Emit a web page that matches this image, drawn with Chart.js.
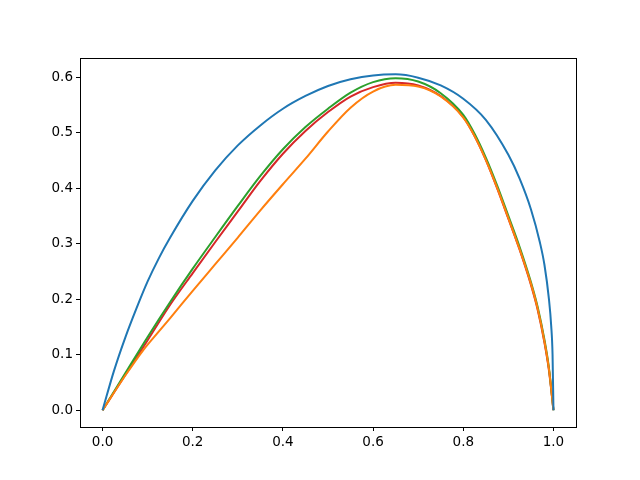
<!DOCTYPE html>
<html>
<head>
<meta charset="utf-8">
<script src="https://cdn.jsdelivr.net/npm/chart.js@4/dist/chart.umd.min.js"></script>
<style>
  html, body { margin: 0; padding: 0; background: #fff; }
  #wrap { width: 640px; height: 480px; position: relative; }
</style>
</head>
<body>
<div id="wrap"><canvas id="chart" width="640" height="480"></canvas></div>
<script>
// values
const blueX = [0, 0.025, 0.05, 0.075, 0.1, 0.125, 0.15, 0.2, 0.25, 0.3, 0.35, 0.4, 0.45, 0.5, 0.55, 0.6, 0.65, 0.7, 0.75, 0.8, 0.85, 0.9, 0.925, 0.95, 0.97, 0.98, 0.99, 0.995, 0.998, 1];
const blueY = [0, 0.07, 0.13, 0.183, 0.232, 0.274, 0.311, 0.377, 0.432, 0.477, 0.513, 0.543, 0.566, 0.584, 0.596, 0.603, 0.605, 0.599, 0.585, 0.561, 0.523, 0.46, 0.417, 0.362, 0.302, 0.262, 0.2, 0.152, 0.1, 0];

const orangeX = [0, 0.05, 0.09, 0.125, 0.15, 0.2, 0.25, 0.3, 0.35, 0.4, 0.45, 0.5, 0.55, 0.6, 0.65, 0.7, 0.75, 0.8, 0.825, 0.85, 0.875, 0.9, 0.925, 0.95, 0.965, 0.98, 0.99, 1];
const orangeY = [0, 0.062, 0.108, 0.142, 0.166, 0.215, 0.263, 0.311, 0.36, 0.407, 0.453, 0.502, 0.545, 0.574, 0.586, 0.583, 0.565, 0.527, 0.494, 0.451, 0.401, 0.346, 0.29, 0.228, 0.183, 0.124, 0.074, 0];

const greenX = [0, 0.05, 0.1, 0.15, 0.2, 0.25, 0.3, 0.35, 0.4, 0.45, 0.5, 0.55, 0.6, 0.65, 0.7, 0.75, 0.8, 0.825, 0.85, 0.875, 0.9, 0.925, 0.95, 0.965, 0.98, 0.99, 1];
const greenY = [0, 0.066, 0.132, 0.195, 0.255, 0.312, 0.368, 0.422, 0.47, 0.51, 0.543, 0.572, 0.591, 0.598, 0.592, 0.571, 0.532, 0.498, 0.455, 0.405, 0.35, 0.294, 0.231, 0.186, 0.127, 0.076, 0];

const redX = [0, 0.05, 0.1, 0.15, 0.2, 0.25, 0.3, 0.35, 0.4, 0.45, 0.5, 0.55, 0.6, 0.65, 0.7, 0.75, 0.8, 0.825, 0.85, 0.875, 0.9, 0.925, 0.95, 0.965, 0.98, 0.99, 1];
const redY = [0, 0.063, 0.126, 0.19, 0.247, 0.303, 0.358, 0.413, 0.462, 0.503, 0.537, 0.565, 0.582, 0.59, 0.585, 0.566, 0.528, 0.494, 0.451, 0.4, 0.345, 0.289, 0.226, 0.181, 0.122, 0.072, 0];

const xTicks = [0, 0.2, 0.4, 0.6, 0.8, 1.0];
const yTicks = [0, 0.1, 0.2, 0.3, 0.4, 0.5, 0.6];

function pts(xs, ys) {
    return xs.map((x, i) => ({ x: x, y: ys[i] }));
}

function line(xs, ys, color) {
    return {
        data: pts(xs, ys),
        borderColor: color,
        backgroundColor: color,
        borderWidth: 2,
        pointRadius: 0,
        fill: false,
        showLine: true,
        cubicInterpolationMode: "monotone"
    };
}

Chart.defaults.font.family = "DejaVu Sans";
Chart.defaults.font.size = 13.5;
Chart.defaults.color = "#000";

// matplotlib-like frame round the plot area
const frame = {
    id: "frame",
    afterDatasetsDraw(chart) {
        const a = chart.chartArea, c = chart.ctx;
        c.save();
        c.strokeStyle = "#000";
        c.lineWidth = 1;
        c.strokeRect(Math.round(a.left) + 0.5, Math.round(a.top) + 0.5, Math.round(a.right - a.left), Math.round(a.bottom - a.top));
        c.restore();
    }
};

new Chart(document.getElementById("chart"), {
    type: "scatter",
    data: {
        datasets: [
            line(blueX, blueY, "#1f77b4"),
            line(orangeX, orangeY, "#ff7f0e"),
            line(greenX, greenY, "#2ca02c"),
            line(redX, redY, "#d62728")
        ]
    },
    options: {
        responsive: false,
        animation: false,
        devicePixelRatio: 1,
        layout: { padding: { top: 58, right: 64, left: 0, bottom: 0 } },
        plugins: { legend: { display: false }, tooltip: { enabled: false } },
        scales: {
            x: {
                type: "linear",
                min: -0.05,
                max: 1.05,
                afterBuildTicks: s => { s.ticks = xTicks.map(v => ({ value: v })); },
                afterFit: s => { s.height = 53; },
                grid: { drawOnChartArea: false, drawTicks: true, tickLength: 4, tickColor: "#000" },
                border: { display: false },
                ticks: { padding: 3, callback: v => v.toFixed(1), maxRotation: 0 }
            },
            y: {
                type: "linear",
                min: -0.0302,
                max: 0.6344,
                afterBuildTicks: s => { s.ticks = yTicks.map(v => ({ value: v })); },
                afterFit: s => { s.width = 80; },
                grid: { drawOnChartArea: false, drawTicks: true, tickLength: 4, tickColor: "#000" },
                border: { display: false },
                ticks: { padding: 3, callback: v => v.toFixed(1) }
            }
        }
    },
    plugins: [frame]
});
</script>
</body>
</html>
